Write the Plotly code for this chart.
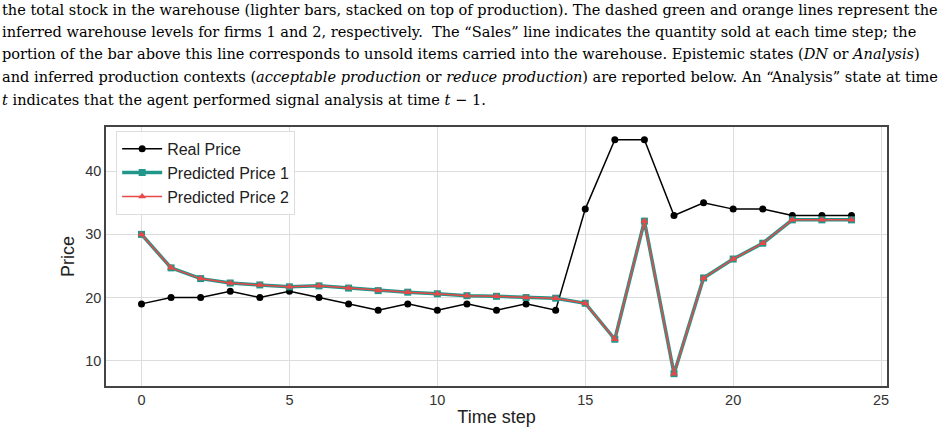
import plotly.graph_objects as go

time_steps = list(range(25))
real_price = [19, 20, 20, 21, 20, 21, 20, 19, 18, 19, 18, 19, 18, 19, 18,
              34, 45, 45, 33, 35, 34, 34, 33, 33, 33]
predicted_price_1 = [30.0, 24.7, 23.0, 22.3, 22.0, 21.7, 21.85, 21.5, 21.1, 20.85,
                     20.6, 20.3, 20.2, 20.0, 19.9, 19.1, 13.4, 32.1, 7.95, 23.1,
                     26.1, 28.6, 32.3, 32.3, 32.3]
predicted_price_2 = [30.0, 24.7, 23.0, 22.3, 22.0, 21.7, 21.85, 21.5, 21.1, 20.85,
                     20.6, 20.3, 20.2, 20.0, 19.9, 19.1, 13.4, 32.1, 7.95, 23.1,
                     26.1, 28.6, 32.3, 32.3, 32.3]

caption_lines = [
    "the total stock in the warehouse (lighter bars, stacked on top of production). The dashed green and orange lines represent the",
    "inferred warehouse levels for firms 1 and 2, respectively.  The “Sales” line indicates the quantity sold at each time step; the",
    "portion of the bar above this line corresponds to unsold items carried into the warehouse. Epistemic states (<i>DN</i> or <i>Analysis</i>)",
    "and inferred production contexts (<i>acceptable production</i> or <i>reduce production</i>) are reported below. An “Analysis” state at time",
    "<i>t</i> indicates that the agent performed signal analysis at time <i>t</i> − 1.",
]

W, H = 948, 436
L, R, T, B = 106, 61, 127, 50
plot_h = H - T - B

fig = go.Figure()
fig.add_trace(go.Scatter(
    x=time_steps, y=real_price, mode="lines+markers", name="Real Price",
    line=dict(color="black", width=1.5),
    marker=dict(symbol="circle", size=7, color="black"),
))
fig.add_trace(go.Scatter(
    x=time_steps, y=predicted_price_1, mode="lines+markers", name="Predicted Price 1",
    line=dict(color="#21968a", width=3.5),
    marker=dict(symbol="square", size=7, color="#21968a"),
))
fig.add_trace(go.Scatter(
    x=time_steps, y=predicted_price_2, mode="lines+markers", name="Predicted Price 2",
    line=dict(color="#e84848", width=1.5),
    marker=dict(symbol="triangle-up", size=7, color="#e84848"),
))

line_y = [9, 31.5, 54, 76.5, 99]
for txt, yp in zip(caption_lines, line_y):
    fig.add_annotation(
        text=txt, xref="paper", yref="paper",
        x=-L / (W - L - R), y=(H - B - yp) / plot_h,
        xanchor="left", yanchor="middle", showarrow=False,
        font=dict(family="DejaVu Serif", size=14.55, color="black"),
    )

fig.update_layout(
    width=W, height=H,
    margin=dict(l=L, r=R, t=T, b=B),
    paper_bgcolor="white", plot_bgcolor="white",
    font=dict(family="Liberation Sans", color="#333333"),
    showlegend=True,
    legend=dict(
        x=0.013, y=0.985, xanchor="left", yanchor="top",
        bgcolor="rgba(255,255,255,0.85)", bordercolor="#dddddd", borderwidth=1,
        font=dict(size=16, color="#222222"), tracegroupgap=0, itemwidth=40,
    ),
    xaxis=dict(
        range=[-1.2, 25.2], tickvals=[0, 5, 10, 15, 20, 25],
        showgrid=True, gridcolor="#dddddd", gridwidth=1,
        zeroline=False, showline=True, linecolor="#444444", linewidth=1.5,
        mirror=True, ticks="", tickfont=dict(size=14.5, color="#333333"),
        title=dict(text="Time step", font=dict(size=18, color="#222222"), standoff=3),
    ),
    yaxis=dict(
        range=[6.0, 47.0], tickvals=[10, 20, 30, 40],
        showgrid=True, gridcolor="#dddddd", gridwidth=1,
        zeroline=False, showline=True, linecolor="#444444", linewidth=1.5,
        mirror=True, ticks="", tickfont=dict(size=14.5, color="#333333"),
        title=dict(text="Price", font=dict(size=18, color="#222222"), standoff=6),
    ),
)

fig.write_html("out.html")
